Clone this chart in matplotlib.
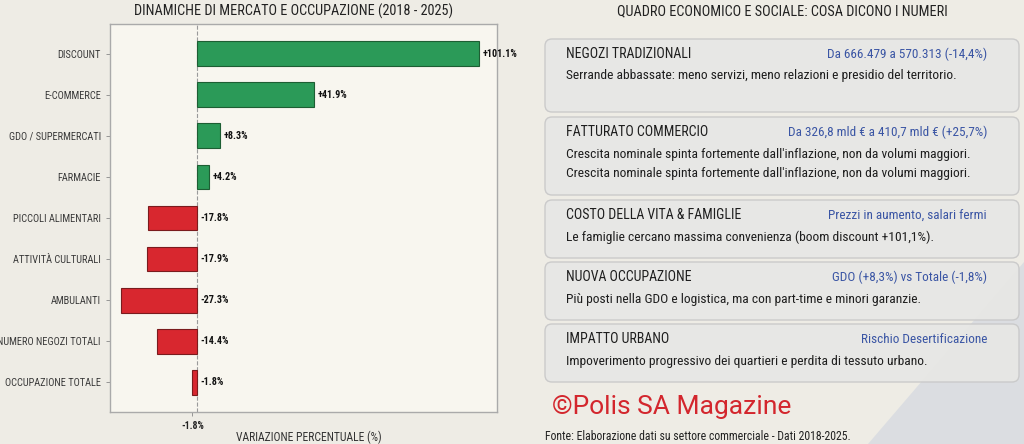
import numpy as np
import matplotlib
matplotlib.use("Agg")
import matplotlib.pyplot as plt
from matplotlib import font_manager
from matplotlib.patches import FancyBboxPatch, Polygon

# data
categories = ["DISCOUNT", "E-COMMERCE", "GDO / SUPERMERCATI", "FARMACIE",
              "PICCOLI ALIMENTARI", "ATTIVITÀ CULTURALI", "AMBULANTI",
              "NUMERO NEGOZI TOTALI", "OCCUPAZIONE TOTALE"]
variazioni = [101.1, 41.9, 8.3, 4.2, -17.8, -17.9, -27.3, -14.4, -1.8]

card_titles = ["NEGOZI TRADIZIONALI", "FATTURATO COMMERCIO", "COSTO DELLA VITA & FAMIGLIE",
               "NUOVA OCCUPAZIONE", "IMPATTO URBANO"]
card_highlights = ["Da 666.479 a 570.313 (-14,4%)",
                   "Da 326,8 mld € a 410,7 mld € (+25,7%)",
                   "Prezzi in aumento, salari fermi",
                   "GDO (+8,3%) vs Totale (-1,8%)",
                   "Rischio Desertificazione"]
card_bodies = [
    ["Serrande abbassate: meno servizi, meno relazioni e presidio del territorio."],
    ["Crescita nominale spinta fortemente dall'inflazione, non da volumi maggiori.",
     "Crescita nominale spinta fortemente dall'inflazione, non da volumi maggiori."],
    ["Le famiglie cercano massima convenienza (boom discount +101,1%)."],
    ["Più posti nella GDO e logistica, ma con part-time e minori garanzie."],
    ["Impoverimento progressivo dei quartieri e perdita di tessuto urbano."],
]

# fonts: condensed look if available
available = {f.name for f in font_manager.fontManager.ttflist}
cond = "DejaVu Sans"
for name in ["Roboto Condensed", "Liberation Sans Narrow", "DejaVu Sans"]:
    if name in available:
        cond = name
        break
plt.rcParams["font.family"] = [cond, "DejaVu Sans"]

BG = "#eeece5"
W, H = 1024, 444
fig = plt.figure(figsize=(W / 100, H / 100), dpi=100, facecolor=BG)

# background overlay in pixel coordinates
bg = fig.add_axes([0, 0, 1, 1], zorder=0)
bg.set_xlim(0, W)
bg.set_ylim(H, 0)
bg.axis("off")
bg.add_patch(Polygon([[868, 444], [1024, 262], [1024, 444]], closed=True,
                     facecolor="#d9dce1", edgecolor="none", alpha=0.9))

# bar chart
ax = fig.add_axes([110 / W, 1 - 412 / H, 387 / W, 388 / H], zorder=2)
ax.set_facecolor("#f8f6ef")
y = np.arange(len(categories))
vals = np.array(variazioni)
colors = np.where(vals >= 0, "#2b9a58", "#d8272f")
edges = np.where(vals >= 0, "#1d5e33", "#7a1b1d")
ax.barh(y, vals, height=0.6, color=colors, edgecolor=edges, linewidth=0.8, zorder=3)
ax.axvline(0, color="#9a9a9a", linestyle="--", linewidth=0.8, zorder=2)
for yi, v in zip(y, vals):
    xpos = v if v > 0 else 0
    ax.text(xpos + 1.2, yi, f"{v:+.1f}%", va="center", ha="left",
            fontsize=7.3, fontweight="bold", color="#111111", zorder=4)
ax.set_yticks(y)
ax.set_yticklabels(categories, fontsize=7.5, color="#3a3a3a")
ax.set_ylim(len(categories) - 0.28, -0.72)
ax.set_xlim(-31.3, 107.5)
ax.set_xticks([-1.8])
ax.set_xticklabels(["-1.8%"], fontsize=7, fontweight="bold", color="#222222")
ax.tick_params(axis="both", length=3, color="#888888", width=0.6)
for s in ax.spines.values():
    s.set_color("#aaaaaa")
    s.set_linewidth(1.0)
fig.text(309 / W, 1 - 437 / H, "VARIAZIONE PERCENTUALE (%)", ha="center", va="center",
         fontsize=8.4, color="#333333")
fig.text(294 / W, 1 - 11 / H, "DINAMICHE DI MERCATO E OCCUPAZIONE (2018 - 2025)",
         ha="center", va="center", fontsize=10.3, color="#222222")

# right panel cards
bg.text(782, 11, "QUADRO ECONOMICO E SOCIALE: COSA DICONO I NUMERI", ha="center",
        va="center", fontsize=10.25, color="#222222")
card_top = [39, 117, 200, 262, 324]
card_bot = [112, 195, 258, 320, 382]
for i, (t, h, body) in enumerate(zip(card_titles, card_highlights, card_bodies)):
    top, bot = card_top[i], card_bot[i]
    bg.add_patch(FancyBboxPatch((545, top), 1019 - 545, bot - top,
                                boxstyle="round,pad=0,rounding_size=7",
                                facecolor="#e7e7e5", edgecolor="#c9c9c9",
                                linewidth=1.0, alpha=0.95))
    bg.text(566, top + 15, t, ha="left", va="center", fontsize=10, color="#1e1e1e")
    bg.text(987, top + 15, h, ha="right", va="center", fontsize=9.5, color="#3a55a4")
    for j, line in enumerate(body):
        bg.text(566, top + 37 + 19 * j, line, ha="left", va="center",
                fontsize=9.7, color="#1e1e1e")

bg.text(552, 407, "©Polis SA Magazine", ha="left", va="center", fontsize=19,
        color="#d3262d", family=["Roboto", "DejaVu Sans"])
bg.text(545, 436, "Fonte: Elaborazione dati su settore commerciale - Dati 2018-2025.",
        ha="left", va="center", fontsize=8.5, color="#222222")

fig.savefig("out.png", dpi=100, facecolor=BG)
